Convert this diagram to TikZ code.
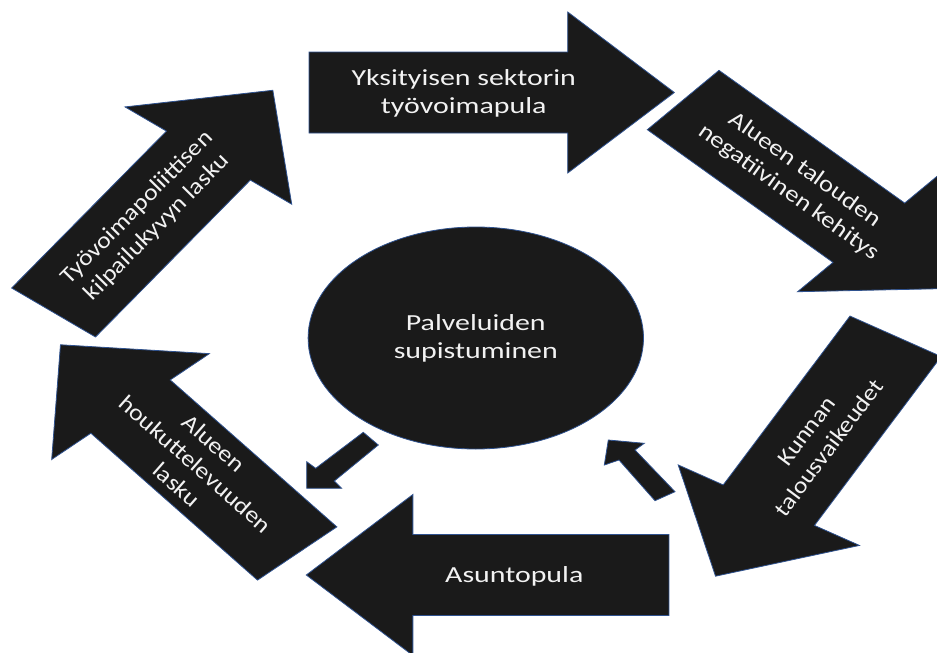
\documentclass[tikz,border=0pt]{standalone}
\usepackage{fontspec}
\setmainfont{Carlito}
\usetikzlibrary{shapes.geometric}
\definecolor{shapefill}{RGB}{26,26,26}
\definecolor{shapeline}{RGB}{47,82,143}
\definecolor{txt}{RGB}{242,242,242}
% #1,#2 tail centre, #3 rotation, #4 shaft length
\newcommand\BigArrow[4]{%
  \begin{scope}[shift={(#1,#2)}, rotate=#3]
    \draw[shapestyle] (0,-40.5) -- (#4,-40.5) -- (#4,-80.5) -- ({#4+82},0)
      -- (#4,80.5) -- (#4,40.5) -- (0,40.5) -- cycle;
  \end{scope}}
\begin{document}
\begin{tikzpicture}[x=1pt, y=-1pt,
  shapestyle/.style={fill=shapefill, draw=shapeline, line width=0.8pt},
  lbl/.style={text=txt, font=\fontsize{23}{28}\selectfont, align=center,
    inner sep=0pt}]
\useasboundingbox (0,0) rectangle (937,653);
\clip (0,0) rectangle (937,653);
\begin{scope}[xscale=1.3]
  \BigArrow{237.7}{92.5}{0}{199}
  \BigArrow{525.5}{100}{-42.9}{195}
  \BigArrow{688.9}{336.3}{-120}{195}
  \BigArrow{514.6}{575}{180}{197}
  \BigArrow{228.6}{553.5}{131.1}{195}
  \BigArrow{41.2}{312.5}{52.8}{197}
  \node[ellipse, shapestyle, minimum width=258pt, minimum height=222pt,
    inner sep=0pt, transform shape] (core) at (366,338) {};
\end{scope}
\node[lbl, xscale=1.3] (coretext) at (core.center) {Palveluiden\\supistuminen};
\node[lbl, xscale=1.3] (a1) at (463.7,93) {Yksityisen sektorin\\työvoimapula};
\node[lbl, rotate=-35.6, xscale=1.17] (a2) at (796.5,181.2) {Alueen talouden\\negatiivinen kehitys};
\node[lbl, rotate=53.1, xscale=1.12] (a3) at (818.1,439.3) {Kunnan\\talousvaikeudet};
\node[lbl, xscale=1.3] (a4) at (514.3,576) {Asuntopula};
\node[lbl, rotate=-41.4, xscale=1.14] (a5) at (195.4,463.9) {Alueen\\houkuttelevuuden\\lasku};
\node[lbl, rotate=45.4, xscale=1.13] (a6) at (147.2,217.7) {Työvoimapoliittisen\\kilpailukyvyn lasku};
% small arrows
\draw[shapestyle] (363.3,432.3) -- (378.3,445) -- (334.3,481) -- (341.7,488.3)
  -- (306.7,488.3) -- (306.7,461.7) -- (315.7,468.3) -- cycle;
\draw[shapestyle] (608.3,440) -- (644.3,443.3) -- (635,450) -- (675,491.7)
  -- (655,500.7) -- (619,460) -- (604.3,465) -- cycle;
\end{tikzpicture}
\end{document}
